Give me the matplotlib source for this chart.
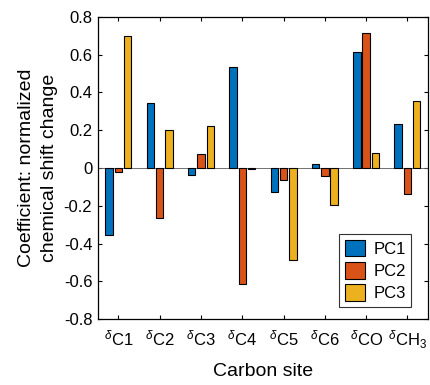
import numpy as np
import matplotlib
matplotlib.use("Agg")
import matplotlib.pyplot as plt

plt.rcParams["font.family"] = ["Liberation Sans", "DejaVu Sans"]
plt.rcParams["mathtext.fontset"] = "custom"
plt.rcParams["mathtext.rm"] = "Liberation Sans"
plt.rcParams["mathtext.it"] = "Liberation Sans:italic"

sites = [r"$^{\delta}$C1", r"$^{\delta}$C2", r"$^{\delta}$C3", r"$^{\delta}$C4",
         r"$^{\delta}$C5", r"$^{\delta}$C6", r"$^{\delta}$CO", r"$^{\delta}$CH$_3$"]
pc1 = [-0.357, 0.343, -0.035, 0.537, -0.128, 0.022, 0.616, 0.232]
pc2 = [-0.022, -0.264, 0.076, -0.616, -0.065, -0.040, 0.713, -0.135]
pc3 = [0.699, 0.200, 0.224, -0.004, -0.487, -0.197, 0.082, 0.354]
series = {"PC1": pc1, "PC2": pc2, "PC3": pc3}

COLORS = ["#0072BD", "#D95319", "#EDB120"]

fig = plt.figure(figsize=(4.31, 3.85), dpi=100)
ax = fig.add_axes([0.227, 0.171, 0.766, 0.785])

x = np.arange(1, len(sites) + 1)
offsets = [-0.225, 0.0, 0.225]
for (name, vals), off, c in zip(series.items(), offsets, COLORS):
    ax.bar(x + off, vals, 0.18, color=c, edgecolor="black", linewidth=0.8,
           label=name, zorder=3)

ax.axhline(0, color="#5a5a5a", lw=0.6, zorder=2)
ax.set_xlim(0.5, 8.5)
ax.set_ylim(-0.8, 0.8)
ax.set_xticks(x)
ax.set_xticklabels(sites)
ax.set_yticks(np.arange(-0.8, 0.81, 0.2))
ax.set_yticklabels(["-0.8", "-0.6", "-0.4", "-0.2", "0", "0.2", "0.4", "0.6", "0.8"])
ax.tick_params(direction="in", top=True, right=True, length=3, width=0.8,
               labelsize=12, colors="black")
ax.tick_params(axis="x", pad=7)
ax.tick_params(axis="y", pad=4)
for s in ax.spines.values():
    s.set_linewidth(0.9)
ax.set_xlabel("Carbon site", fontsize=14, labelpad=8)
ax.set_ylabel("Coefficient: normalized\nchemical shift change", fontsize=14,
              linespacing=1.45)
ax.yaxis.set_label_coords(-0.12, 0.5)

leg = ax.legend(loc="lower right", fontsize=12, fancybox=False, framealpha=1,
                edgecolor="#333333", handlelength=1.2, handleheight=1.15,
                borderpad=0.35, labelspacing=0.32, handletextpad=0.5,
                borderaxespad=0, bbox_to_anchor=(0.95, 0.04))
leg.get_frame().set_linewidth(0.8)

fig.savefig("out.png", dpi=100, facecolor="white")
